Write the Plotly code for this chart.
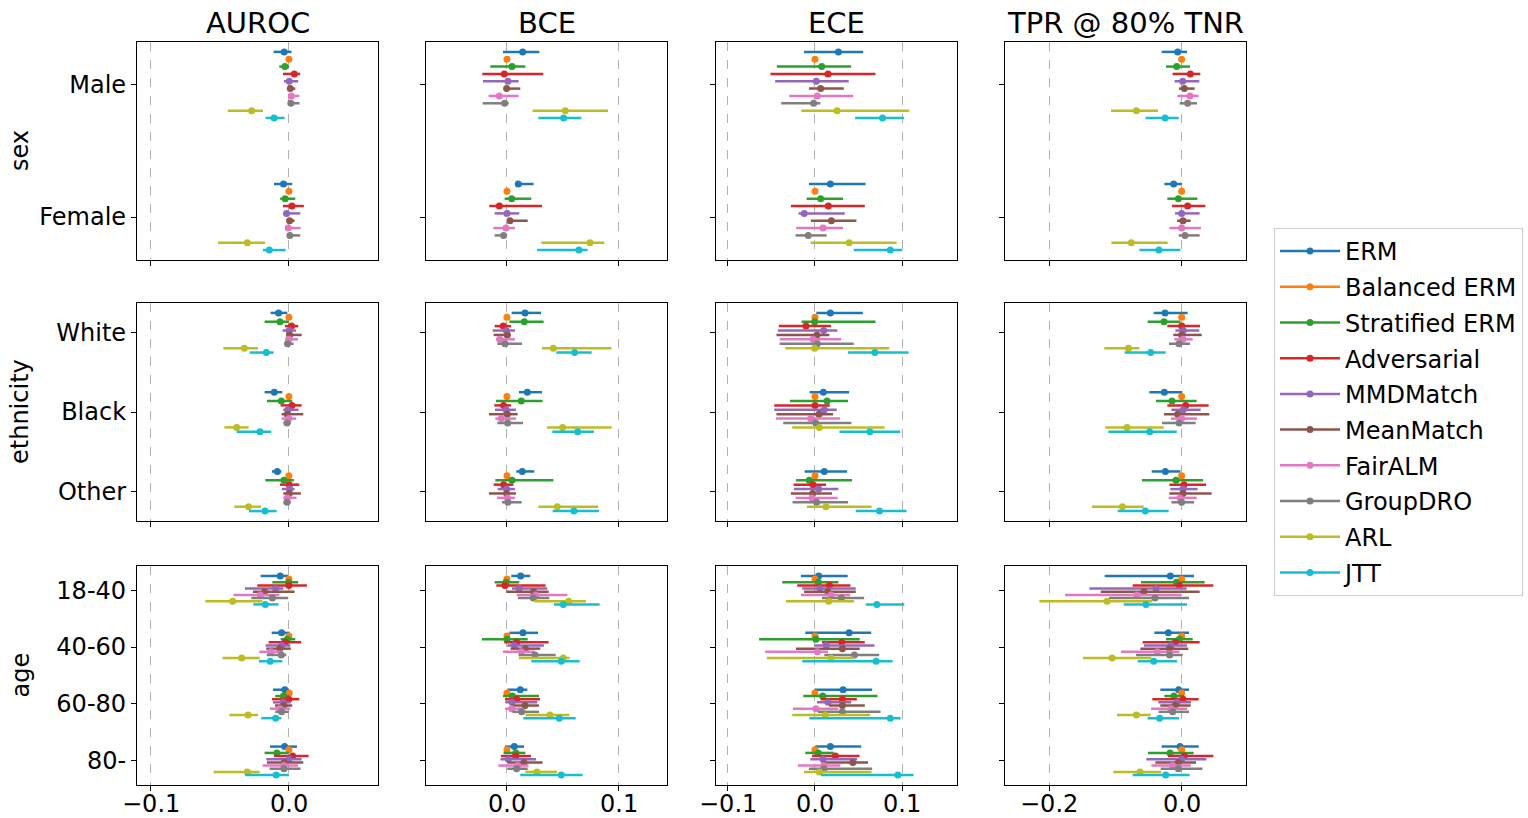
import plotly.graph_objects as go

# ---------------- data ----------------
methods = ["ERM", "Balanced ERM", "Stratified ERM", "Adversarial", "MMDMatch",
           "MeanMatch", "FairALM", "GroupDRO", "ARL", "JTT"]
metrics = ["AUROC", "BCE", "ECE", "TPR @ 80% TNR"]
attributes = ["sex", "ethnicity", "age"]
sex_groups = ["Male", "Female"]
ethnicity_groups = ["White", "Black", "Other"]
age_groups = ["18-40", "40-60", "60-80", "80-"]

# each entry: (mean, lower, upper) for the 10 methods, per group
auroc_sex = [
    [(-0.0034, -0.0111, 0.0019), (0, 0, 0), (-0.0029, -0.0070, 0.0), (0.0039, -0.0043, 0.0082), (0.0002, -0.0036, 0.0067),
     (0.0010, -0.0007, 0.0046), (0.0017, -0.0005, 0.0075), (0.0014, -0.0005, 0.0077), (-0.0270, -0.0443, -0.0188), (-0.0108, -0.0169, -0.0031)],
    [(-0.0039, -0.0108, 0.0024), (0, 0, 0), (-0.0027, -0.0063, 0.0046), (0.0022, -0.0043, 0.0108), (-0.0017, -0.0039, 0.0082),
     (0.0005, -0.0014, 0.0041), (-0.0005, -0.0027, 0.0084), (0.0007, -0.0012, 0.0082), (-0.0301, -0.0513, -0.0173), (-0.0142, -0.0188, -0.0024)],
]
bce_sex = [
    [(0.0140, -0.0036, 0.0289), (0, 0, 0), (0.0045, -0.0149, 0.0164), (-0.0024, -0.0220, 0.0324), (0.0009, -0.0214, 0.0104),
     (-0.0003, -0.0018, 0.0119), (-0.0068, -0.0164, 0.0104), (-0.0021, -0.0217, 0.0015), (0.0521, 0.0229, 0.0902), (0.0506, 0.0280, 0.0664)],
    [(0.0101, 0.0071, 0.0238), (0, 0, 0), (0.0042, -0.0021, 0.0217), (-0.0068, -0.0158, 0.0313), (0.0, -0.0110, 0.0110),
     (0.0027, 0.0003, 0.0185), (-0.0009, -0.0122, 0.0071), (-0.0030, -0.0110, 0.0), (0.0741, 0.0307, 0.0869), (0.0643, 0.0268, 0.0720)],
]
ece_sex = [
    [(0.0268, -0.0126, 0.0552), (0, 0, 0), (0.0077, -0.0437, 0.0414), (0.0149, -0.0510, 0.0693), (0.0015, -0.0456, 0.0387),
     (0.0065, -0.0069, 0.0330), (0.0027, -0.0295, 0.0437), (-0.0015, -0.0387, 0.0061), (0.0253, -0.0157, 0.1080), (0.0774, 0.0460, 0.1019)],
    [(0.0176, -0.0069, 0.0579), (0, 0, 0), (0.0065, -0.0096, 0.0322), (0.0153, -0.0276, 0.0571), (-0.0123, -0.0188, 0.0341),
     (0.0188, -0.0046, 0.0475), (0.0092, -0.0215, 0.0322), (-0.0077, -0.0222, 0.0134), (0.0391, -0.0050, 0.0935), (0.0862, 0.0444, 0.1000)],
]
tpr_sex = [
    [(-0.0060, -0.0302, 0.0080), (0, 0, 0), (-0.0075, -0.0236, 0.0126), (0.0131, -0.0136, 0.0281), (0.0015, -0.0106, 0.0266),
     (0.0040, -0.0040, 0.0196), (0.0126, -0.0065, 0.0256), (0.0090, -0.0030, 0.0231), (-0.0683, -0.1065, -0.0357), (-0.0251, -0.0543, -0.0045)],
    [(-0.0121, -0.0261, 0.0005), (0, 0, 0), (-0.0050, -0.0216, 0.0236), (0.0090, -0.0146, 0.0357), (0.0, -0.0100, 0.0271),
     (0.0020, -0.0070, 0.0136), (0.0, -0.0186, 0.0291), (0.0050, -0.0045, 0.0271), (-0.0759, -0.1060, -0.0211), (-0.0342, -0.0638, -0.0020)],
]

auroc_eth = [
    [(-0.0075, -0.0133, -0.0012), (0, 0, 0), (-0.0065, -0.0176, 0.0), (0.0019, -0.0029, 0.0067), (0.0002, -0.0046, 0.0051),
     (0.0005, -0.0019, 0.0092), (0.0, -0.0027, 0.0065), (-0.0010, -0.0036, 0.0034), (-0.0323, -0.0475, -0.0224), (-0.0164, -0.0284, -0.0111)],
    [(-0.0106, -0.0176, -0.0048), (0, 0, 0), (-0.0055, -0.0159, 0.0024), (0.0022, -0.0060, 0.0092), (-0.0007, -0.0041, 0.0070),
     (-0.0012, -0.0053, 0.0104), (0.0, -0.0053, 0.0053), (-0.0014, -0.0039, 0.0014), (-0.0378, -0.0467, -0.0292), (-0.0210, -0.0378, -0.0128)],
    [(-0.0084, -0.0123, -0.0055), (0, 0, 0), (-0.0036, -0.0171, 0.0036), (0.0002, -0.0065, 0.0075), (0.0005, -0.0051, 0.0041),
     (0.0002, -0.0041, 0.0087), (-0.0012, -0.0039, 0.0055), (-0.0014, -0.0039, 0.0014), (-0.0292, -0.0395, -0.0202), (-0.0173, -0.0289, -0.0089)],
]
bce_eth = [
    [(0.0161, 0.0042, 0.0304), (0, 0, 0), (0.0155, 0.0021, 0.0327), (-0.0033, -0.0110, 0.0036), (-0.0006, -0.0128, 0.0071),
     (0.0003, -0.0119, 0.0033), (-0.0065, -0.0098, 0.0071), (-0.0018, -0.0086, 0.0134), (0.0414, 0.0313, 0.0932), (0.0604, 0.0440, 0.0756)],
    [(0.0182, 0.0107, 0.0313), (0, 0, 0), (0.0128, -0.0098, 0.0318), (-0.0030, -0.0113, 0.0036), (-0.0009, -0.0107, 0.0080),
     (0.0003, -0.0161, 0.0095), (-0.0051, -0.0104, 0.0080), (0.0006, -0.0086, 0.0143), (0.0497, 0.0357, 0.0935), (0.0631, 0.0405, 0.0777)],
    [(0.0137, 0.0083, 0.0244), (0, 0, 0), (0.0045, -0.0104, 0.0414), (-0.0030, -0.0119, 0.0057), (-0.0003, -0.0083, 0.0071),
     (-0.0003, -0.0161, 0.0080), (0.0003, -0.0089, 0.0071), (0.0009, -0.0045, 0.0131), (0.0449, 0.0280, 0.0815), (0.0598, 0.0408, 0.0821)],
]
ece_eth = [
    [(0.0176, 0.0015, 0.0548), (0, 0, 0), (-0.0004, -0.0153, 0.0693), (-0.0103, -0.0414, 0.0184), (0.0100, -0.0425, 0.0257),
     (0.0023, -0.0441, 0.0165), (-0.0023, -0.0402, 0.0299), (0.0027, -0.0406, 0.0444), (-0.0004, -0.0341, 0.0851), (0.0686, 0.0379, 0.1073)],
    [(0.0096, -0.0061, 0.0391), (0, 0, 0), (0.0138, -0.0287, 0.0379), (0.0, -0.0467, 0.0169), (0.0107, -0.0467, 0.0249),
     (0.0046, -0.0441, 0.0207), (-0.0050, -0.0448, 0.0287), (0.0008, -0.0364, 0.0418), (0.0050, -0.0261, 0.0797), (0.0628, 0.0280, 0.0977)],
    [(0.0107, -0.0119, 0.0368), (0, 0, 0), (-0.0065, -0.0218, 0.0425), (-0.0023, -0.0245, 0.0126), (0.0042, -0.0241, 0.0268),
     (-0.0027, -0.0276, 0.0195), (-0.0034, -0.0222, 0.0261), (0.0019, -0.0257, 0.0379), (0.0126, -0.0092, 0.0648), (0.0739, 0.0467, 0.1050)],
]
tpr_eth = [
    [(-0.0251, -0.0422, 0.0090), (0, 0, 0), (-0.0266, -0.0513, -0.0020), (0.0, -0.0216, 0.0276), (0.0025, -0.0095, 0.0266),
     (0.0, -0.0126, 0.0302), (0.0020, -0.0111, 0.0166), (-0.0040, -0.0191, 0.0126), (-0.0804, -0.1166, -0.0638), (-0.0467, -0.0859, -0.0241)],
    [(-0.0261, -0.0487, 0.0010), (0, 0, 0), (-0.0146, -0.0387, 0.0226), (0.0060, -0.0216, 0.0407), (0.0025, -0.0156, 0.0286),
     (-0.0060, -0.0266, 0.0417), (0.0, -0.0161, 0.0231), (-0.0040, -0.0296, 0.0211), (-0.0824, -0.1151, -0.0271), (-0.0482, -0.1106, -0.0075)],
    [(-0.0246, -0.0452, -0.0020), (0, 0, 0), (-0.0085, -0.0598, 0.0322), (0.0035, -0.0186, 0.0367), (0.0020, -0.0171, 0.0241),
     (0.0020, -0.0186, 0.0452), (-0.0025, -0.0196, 0.0226), (0.0, -0.0156, 0.0186), (-0.0894, -0.1352, -0.0573), (-0.0548, -0.0965, -0.0196)],
]

auroc_age = [
    [(-0.0063, -0.0205, -0.0005), (0, 0, 0), (-0.0002, -0.0120, 0.0067), (0.0, -0.0229, 0.0130), (-0.0096, -0.0318, -0.0041),
     (-0.0176, -0.0260, 0.0041), (-0.0207, -0.0402, -0.0070), (-0.0120, -0.0272, -0.0005), (-0.0407, -0.0605, -0.0193), (-0.0171, -0.0258, -0.0075)],
    [(-0.0053, -0.0125, 0.0005), (0, 0, 0), (-0.0012, -0.0060, 0.0046), (-0.0027, -0.0147, 0.0089), (-0.0053, -0.0169, 0.0010),
     (-0.0067, -0.0164, 0.0014), (-0.0130, -0.0214, -0.0043), (-0.0055, -0.0161, -0.0019), (-0.0342, -0.0480, -0.0212), (-0.0135, -0.0217, -0.0048)],
    [(-0.0029, -0.0116, 0.0), (0.0002, 0.0002, 0.0002), (-0.0039, -0.0099, 0.0), (0.0, -0.0123, 0.0075), (-0.0041, -0.0116, 0.0014),
     (-0.0036, -0.0101, 0.0024), (-0.0065, -0.0137, 0.0010), (-0.0053, -0.0099, -0.0002), (-0.0296, -0.0431, -0.0224), (-0.0096, -0.0200, -0.0055)],
    [(-0.0031, -0.0137, 0.0058), (0, 0, 0), (-0.0087, -0.0176, 0.0), (0.0027, -0.0108, 0.0142), (0.0, -0.0164, 0.0092),
     (-0.0034, -0.0159, 0.0104), (-0.0036, -0.0190, 0.0067), (-0.0036, -0.0140, 0.0084), (-0.0301, -0.0545, -0.0212), (-0.0092, -0.0318, 0.0)],
]
bce_age = [
    [(0.0122, 0.0039, 0.0208), (0, 0, 0), (-0.0009, -0.0110, 0.0110), (-0.0018, -0.0095, 0.0345), (0.0110, 0.0045, 0.0360),
     (0.0238, -0.0006, 0.0372), (0.0259, 0.0086, 0.0539), (0.0235, 0.0098, 0.0378), (0.0551, 0.0244, 0.0705), (0.0503, 0.0420, 0.0827)],
    [(0.0143, 0.0021, 0.0277), (0, 0, 0), (0.0, -0.0223, 0.0185), (0.0086, -0.0024, 0.0372), (0.0065, 0.0003, 0.0330),
     (0.0164, 0.0033, 0.0298), (0.0128, -0.0036, 0.0250), (0.0250, 0.0104, 0.0435), (0.0503, 0.0107, 0.0560), (0.0485, 0.0217, 0.0649)],
    [(0.0119, 0.0003, 0.0182), (0, 0, 0), (0.0048, -0.0036, 0.0286), (0.0086, -0.0018, 0.0295), (0.0045, -0.0015, 0.0271),
     (0.0161, 0.0039, 0.0286), (0.0042, -0.0018, 0.0146), (0.0131, 0.0048, 0.0286), (0.0384, 0.0167, 0.0557), (0.0467, 0.0146, 0.0613)],
    [(0.0065, -0.0018, 0.0152), (0, 0, 0), (0.0080, -0.0030, 0.0164), (0.0077, -0.0054, 0.0214), (0.0012, -0.0057, 0.0259),
     (0.0152, 0.0003, 0.0318), (0.0095, -0.0077, 0.0193), (0.0086, 0.0003, 0.0185), (0.0268, 0.0164, 0.0446), (0.0485, 0.0119, 0.0676)],
]
ece_age = [
    [(0.0042, -0.0161, 0.0375), (0, 0, 0), (0.0038, -0.0375, 0.0268), (0.0165, -0.0203, 0.0406), (0.0057, -0.0146, 0.0467),
     (0.0146, -0.0126, 0.0467), (0.0184, -0.0161, 0.0402), (0.0303, 0.0080, 0.0563), (0.0157, -0.0333, 0.0448), (0.0709, 0.0582, 0.1023)],
    [(0.0391, -0.0111, 0.0644), (0, 0, 0), (0.0011, -0.0640, 0.0513), (0.0307, 0.0080, 0.0571), (0.0130, -0.0004, 0.0682),
     (0.0314, -0.0218, 0.0513), (0.0027, -0.0571, 0.0149), (0.0452, 0.0107, 0.0736), (0.0184, -0.0552, 0.0448), (0.0701, -0.0146, 0.0889)],
    [(0.0322, -0.0008, 0.0655), (0, 0, 0), (0.0088, -0.0134, 0.0716), (0.0314, 0.0065, 0.0479), (0.0149, 0.0023, 0.0414),
     (0.0314, 0.0161, 0.0571), (0.0011, -0.0253, 0.0268), (0.0314, 0.0034, 0.0751), (0.0119, -0.0261, 0.0632), (0.0862, -0.0065, 0.0981)],
    [(0.0176, 0.0004, 0.0529), (0, 0, 0), (0.0038, -0.0111, 0.0215), (0.0234, -0.0034, 0.0510), (0.0092, -0.0054, 0.0483),
     (0.0433, 0.0077, 0.0609), (0.0100, -0.0195, 0.0291), (0.0103, -0.0069, 0.0655), (0.0050, -0.0126, 0.0648), (0.0950, 0.0069, 0.1130)],
]
tpr_age = [
    [(-0.0171, -0.1161, 0.0186), (0, 0, 0), (-0.0080, -0.0613, 0.0347), (-0.0035, -0.0739, 0.0477), (-0.0387, -0.1392, 0.0075),
     (-0.0568, -0.1221, 0.0271), (-0.0673, -0.1759, 0.0), (-0.0402, -0.1095, 0.0111), (-0.1126, -0.2146, -0.0442), (-0.0538, -0.0874, 0.0080)],
    [(-0.0201, -0.0412, 0.0111), (0, 0, 0), (-0.0035, -0.0236, 0.0166), (-0.0095, -0.0588, 0.0271), (-0.0161, -0.0568, 0.0080),
     (-0.0186, -0.0623, 0.0100), (-0.0367, -0.0915, -0.0035), (-0.0181, -0.0688, 0.0015), (-0.1050, -0.1487, -0.0457), (-0.0422, -0.0663, -0.0070)],
    [(-0.0045, -0.0322, 0.0111), (0, 0, 0), (-0.0116, -0.0261, 0.0035), (0.0020, -0.0442, 0.0256), (-0.0070, -0.0352, 0.0141),
     (-0.0100, -0.0322, 0.0136), (-0.0161, -0.0462, 0.0085), (-0.0136, -0.0347, 0.0111), (-0.0683, -0.0975, -0.0467), (-0.0332, -0.0513, -0.0040)],
    [(-0.0025, -0.0302, 0.0256), (0, 0, 0), (-0.0176, -0.0508, 0.0181), (0.0040, -0.0206, 0.0477), (0.0, -0.0533, 0.0372),
     (-0.0050, -0.0397, 0.0216), (-0.0136, -0.0457, 0.0136), (-0.0050, -0.0317, 0.0312), (-0.0628, -0.1030, -0.0307), (-0.0241, -0.0739, 0.0120)],
]

panels = [
    [auroc_sex, bce_sex, ece_sex, tpr_sex],
    [auroc_eth, bce_eth, ece_eth, tpr_eth],
    [auroc_age, bce_age, ece_age, tpr_age],
]
row_groups = [sex_groups, ethnicity_groups, age_groups]

# ---------------- styling / layout ----------------
colors = ["#1f77b4", "#ff7f0e", "#2ca02c", "#d62728", "#9467bd",
          "#8c564b", "#e377c2", "#7f7f7f", "#bcbd22", "#17becf"]
W, H = 1528, 818
FONT = "DejaVu Sans"
col_px = [(137, 378), (426, 667), (716, 957), (1005, 1246)]
row_px = [(42, 260), (303, 521), (566, 785)]
x_ranges = [(-0.110, 0.0645), (-0.0723, 0.1429), (-0.1134, 0.1627), (-0.2664, 0.097)]
x_ticks = [[-0.1, 0.0], [0.0, 0.1], [-0.1, 0.0, 0.1], [-0.2, 0.0]]
MARK = 7
LW = 2.5

def tick_text(v):
    s = f"{abs(v):.1f}"
    return ("\u2212" + s) if v < 0 else s

fig = go.Figure()
layout = {}
annotations = []
n_m = len(methods)
offsets = [-0.25 + i * 0.5 / (n_m - 1) for i in range(n_m)]

for r in range(3):
    groups = row_groups[r]
    ng = len(groups)
    m = 0.05 * (ng - 0.5)
    for c in range(4):
        k = r * 4 + c + 1
        xa = "x" if k == 1 else f"x{k}"
        ya = "y" if k == 1 else f"y{k}"
        data = panels[r][c]
        for i, name in enumerate(methods):
            xs = [data[g][i][0] for g in range(ng)]
            lo = [data[g][i][0] - data[g][i][1] for g in range(ng)]
            hi = [data[g][i][2] - data[g][i][0] for g in range(ng)]
            ys = [g + offsets[i] for g in range(ng)]
            fig.add_trace(go.Scatter(
                x=xs, y=ys, xaxis=xa, yaxis=ya, mode="markers",
                marker=dict(color=colors[i], size=MARK),
                error_x=dict(type="data", symmetric=False, array=hi, arrayminus=lo,
                             color=colors[i], thickness=LW, width=0),
                name=name, legendgroup=name, showlegend=False, hoverinfo="x+name"))
        x0, x1 = col_px[c]
        y0, y1 = row_px[r]
        layout[f"xaxis{'' if k == 1 else k}"] = dict(
            domain=[x0 / W, x1 / W], anchor=ya, range=list(x_ranges[c]), automargin=False,
            tickvals=x_ticks[c], showticklabels=False,
            ticks="outside", ticklen=5, tickwidth=1, tickcolor="black",
            showgrid=True, gridcolor="#b0b0b0", griddash="dash", gridwidth=1,
            showline=True, mirror=True, linecolor="black", linewidth=1.2,
            zeroline=False)
        layout[f"yaxis{'' if k == 1 else k}"] = dict(
            domain=[1 - y1 / H, 1 - y0 / H], anchor=xa, automargin=False,
            range=[ng - 1 + 0.25 + m, -0.25 - m],
            tickvals=list(range(ng)), ticktext=groups, showticklabels=(c == 0),
            ticks="outside", ticklen=5, tickwidth=1, tickcolor="black",
            showgrid=False, zeroline=False,
            showline=True, mirror=True, linecolor="black", linewidth=1.2,
            tickfont=dict(size=24, color="black", family=FONT))
        # bottom-row x tick labels, placed just below the tick marks
        if r == 2:
            for v in x_ticks[c]:
                annotations.append(dict(text=tick_text(v), x=v, xref=xa, y=1 - 804 / H, yref="paper",
                                        showarrow=False, xanchor="center", yanchor="middle",
                                        font=dict(size=24, color="black", family=FONT)))

# legend entries (line + marker like matplotlib errorbar handles)
for i, name in enumerate(methods):
    fig.add_trace(go.Scatter(
        x=[None], y=[None], mode="lines+markers", name=name, legendgroup=name,
        line=dict(color=colors[i], width=LW), marker=dict(color=colors[i], size=MARK),
        showlegend=True))

for c, t in enumerate(metrics):
    x0, x1 = col_px[c]
    annotations.append(dict(text=t, x=(x0 + x1) / 2 / W, y=1 - 23 / H, xref="paper", yref="paper",
                            showarrow=False, xanchor="center", yanchor="middle",
                            font=dict(size=29, color="black", family=FONT)))
for r, t in enumerate(attributes):
    y0, y1 = row_px[r]
    annotations.append(dict(text=t, x=20 / W, y=1 - (y0 + y1) / 2 / H, xref="paper", yref="paper",
                            showarrow=False, xanchor="center", yanchor="middle", textangle=-90,
                            font=dict(size=24, color="black", family=FONT)))

fig.update_layout(
    width=W, height=H, margin=dict(l=0, r=0, t=0, b=0, autoexpand=False),
    paper_bgcolor="white", plot_bgcolor="white",
    font=dict(family=FONT, size=24, color="black"),
    showlegend=True,
    legend=dict(x=1274 / W, y=1 - 228 / H, xanchor="left", yanchor="top",
                bgcolor="white", bordercolor="#cccccc", borderwidth=1,
                font=dict(size=24, family=FONT, color="black"),
                tracegroupgap=1.5, itemwidth=60),
    annotations=annotations,
    **layout)

fig.write_html("out.html")
